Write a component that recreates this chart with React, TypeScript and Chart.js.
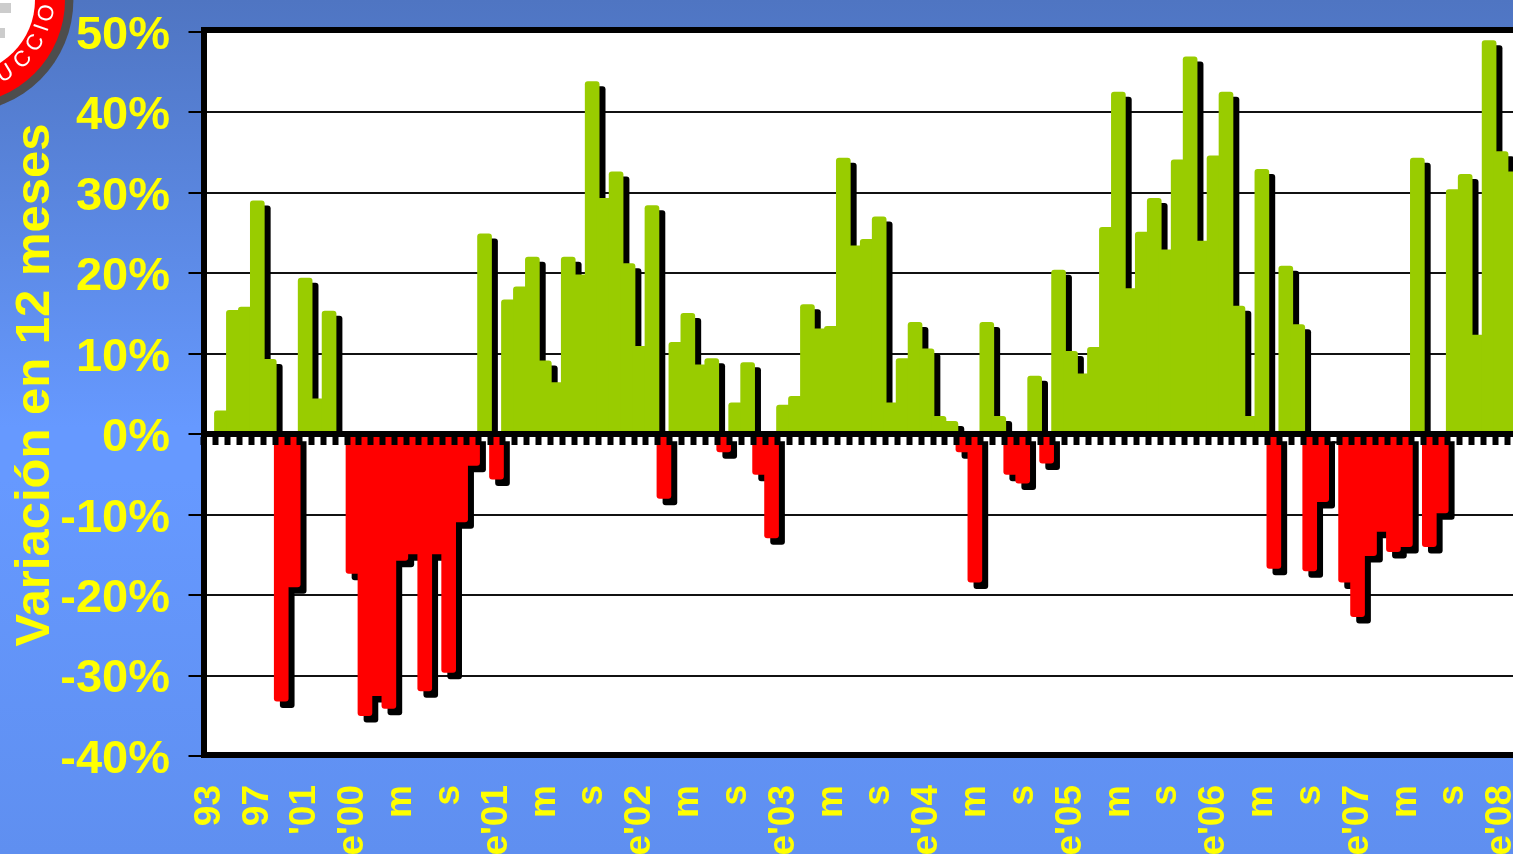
import React, { useEffect, useRef } from "react";
import { Chart, registerables } from "chart.js";

Chart.register(...registerables);

const tickLabels = ["93", "97", "'01", "e'00", "m", "s", "e'01", "m", "s", "e'02", "m", "s", "e'03", "m", "s", "e'04", "m", "s", "e'05", "m", "s", "e'06", "m", "s", "e'07", "m", "s", "e'08"];

// Variación en 12 meses, %; null = no bar
const values: (number | null)[] = [
  null, 2.9, 15.4, 15.8, 29.0, 9.3, -33.2, -19.0, 19.4, 4.4, 15.3, null,
  -17.3, -35.0, -32.5, -34.1, -15.7, -14.9, -31.9, -14.9, -29.6, -10.9, -3.9, 24.9,
  -5.6, 16.7, 18.3, 22.0, 9.1, 6.4, 22.0, 19.8, 43.8, 29.3, 32.6, 21.2,
  10.9, 28.4, -8.0, 11.4, 15.0, 8.6, 9.4, -2.2, 3.9, 8.9, -5.0, -12.9,
  3.6, 4.7, 16.1, 13.1, 13.4, 34.3, 23.4, 24.2, 27.0, 3.9, 9.4, 13.9,
  10.6, 2.2, 1.6, -2.2, -18.4, 13.9, 2.2, -5.0, -6.1, 7.2, -3.6, 20.4,
  10.3, 7.5, 10.8, 25.7, 42.5, 18.1, 25.1, 29.3, 22.9, 34.1, 46.9, 24.0,
  34.6, 42.5, 15.9, 2.2, 32.9, -16.7, 20.9, 13.6, -17.0, -8.4, -0.3, -18.4,
  -22.7, -15.1, -12.1, -14.6, -14.0, 34.3, -14.0, -9.8, 30.4, 32.3, 12.3, 48.9,
  35.1, 32.6,
];

const categories = values.map((_, i) => (i % 4 === 0 ? tickLabels[i / 4] : ""));
const positive = values.map((v) => (v !== null && v > 0 ? v : null));
const negative = values.map((v) => (v !== null && v < 0 ? v : null));

const logoLetters = [
  { ch: "U", deg: 59, r: 86 },
  { ch: "C", deg: 44, r: 86 },
  { ch: "C", deg: 30, r: 86 },
  { ch: "I", deg: 19, r: 86 },
  { ch: "O", deg: 8.6, r: 87 },
];

const FONT = '"Liberation Sans", Arial, sans-serif';
const YELLOW = "#ffff00";

const plotBgPlugin = {
  id: "plotBg",
  beforeDraw(chart: any) {
    const { left, top, right, bottom } = chart.chartArea;
    chart.ctx.save();
    chart.ctx.fillStyle = "#fff";
    chart.ctx.fillRect(left, top, right - left, bottom - top);
    chart.ctx.restore();
  },
};

const shadowPlugin = {
  id: "barShadow",
  beforeDatasetDraw(chart: any, args: any) {
    const ctx = chart.ctx;
    ctx.save();
    if (args.index === 0) {
      const zero = chart.scales.y.getPixelForValue(0);
      ctx.beginPath();
      ctx.rect(0, 0, chart.width, zero);
      ctx.clip();
    }
    ctx.shadowColor = "#000";
    ctx.shadowBlur = 0;
    ctx.shadowOffsetX = 6;
    ctx.shadowOffsetY = args.index === 0 ? 5 : 6.5;
  },
  afterDatasetDraw(chart: any) {
    chart.ctx.restore();
  },
};

const decorPlugin = {
  id: "decor",
  afterDraw(chart: any) {
    const ctx = chart.ctx;
    const { left, top, right, bottom } = chart.chartArea;
    ctx.save();
    // frame of the plot
    ctx.strokeStyle = "#000";
    ctx.lineWidth = 6;
    ctx.strokeRect(left + 0.5, top - 1.8, right - left, bottom - top + 0.8);

    // axis title
    ctx.save();
    ctx.translate(35, 385);
    ctx.rotate(-Math.PI / 2);
    ctx.fillStyle = YELLOW;
    ctx.font = `bold 49px ${FONT}`;
    ctx.textAlign = "center";
    ctx.textBaseline = "middle";
    ctx.fillText("Variación en 12 meses", 0, 0);
    ctx.restore();

    // logo in the corner
    const cx = -39;
    const cy = 0;
    const ring = (r: number, color: string) => {
      ctx.beginPath();
      ctx.arc(cx, cy, r, 0, Math.PI * 2);
      ctx.fillStyle = color;
      ctx.fill();
    };
    ring(112.4, "#4d4d4d");
    ring(104, "#ff0000");
    ring(74, "#ffffff");
    ctx.fillStyle = "#cccccc";
    ctx.fillRect(0, 3, 11, 10);
    ctx.fillRect(0, 28, 5, 10);
    ctx.fillStyle = "#ffffff";
    ctx.font = `22px ${FONT}`;
    ctx.textAlign = "center";
    ctx.textBaseline = "middle";
    logoLetters.forEach(({ ch, deg, r }) => {
      const a = (deg * Math.PI) / 180;
      ctx.save();
      ctx.translate(cx + r * Math.cos(a), cy + r * Math.sin(a));
      ctx.rotate(a - Math.PI / 2);
      ctx.fillText(ch, 0, 0);
      ctx.restore();
    });
    ctx.restore();
  },
};

export default function App() {
  const ref = useRef<HTMLCanvasElement | null>(null);

  useEffect(() => {
    if (!ref.current) return;
    const chart = new Chart(ref.current, {
      type: "bar",
      data: {
        labels: categories,
        datasets: [
          { label: "Positiva", data: positive, backgroundColor: "#99cc00", grouped: false, barThickness: 14, borderRadius: 3, xAxisID: "x", yAxisID: "y" },
          { label: "Negativa", data: negative, backgroundColor: "#ff0000", grouped: false, barThickness: 14, borderRadius: 3, xAxisID: "x", yAxisID: "y" },
        ],
      },
      options: {
        animation: false,
        responsive: false,
        maintainAspectRatio: false,
        layout: { padding: { top: 31.8, left: 0, right: 0, bottom: 0 } },
        plugins: { legend: { display: false }, title: { display: false }, tooltip: { enabled: false } },
        scales: {
          x: {
            type: "category",
            offset: true,
            grid: { display: false },
            border: { display: false },
            ticks: {
              autoSkip: false,
              minRotation: 90,
              maxRotation: 90,
              padding: 21,
              color: YELLOW,
              font: { family: FONT, size: 37, weight: "bold" },
            },
            afterFit: (s: any) => {
              s.height = 98;
              s.paddingLeft = 0;
              s.paddingRight = 0;
            },
          },
          x2: {
            type: "category",
            labels: categories,
            offset: true,
            position: { y: 0 },
            ticks: { display: false, autoSkip: false },
            grid: { offset: true, drawOnChartArea: false, drawTicks: true, tickLength: 8, tickWidth: 6, tickColor: "#000", z: 1 },
            border: { display: true, color: "#000", width: 6, z: 1 },
            afterFit: (s: any) => {
              s.paddingLeft = 0;
              s.paddingRight = 0;
            },
          },
          y: {
            min: -40,
            max: 50,
            afterFit: (s: any) => {
              s.width = 203.5;
              s.paddingTop = 0;
              s.paddingBottom = 0;
            },
            grid: { color: "#111", lineWidth: 2, tickLength: 15, tickColor: "#000", tickWidth: 2 },
            border: { display: false },
            ticks: {
              stepSize: 10,
              padding: 18.5,
              labelOffset: 4,
              color: YELLOW,
              font: { family: FONT, size: 47, weight: "bold" },
              callback: (v: any) => `${v}%`,
            },
          },
        },
      } as any,
      plugins: [plotBgPlugin, shadowPlugin, decorPlugin] as any,
    });
    return () => chart.destroy();
  }, []);

  return (
    <div
      style={{
        position: "fixed",
        left: 0,
        top: 0,
        width: 1513,
        height: 854,
        overflow: "hidden",
        background: "linear-gradient(180deg, #4f75c2 0%, #6699ff 50%, #6699ff 56%, #5f8ff0 100%)",
      }}
    >
      <canvas ref={ref} width={1519} height={854} style={{ display: "block", position: "absolute", left: 0, top: 0 }} />
    </div>
  );
}
